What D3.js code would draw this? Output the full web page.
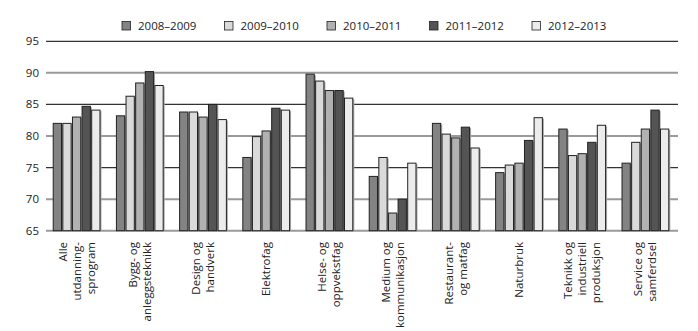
<!DOCTYPE html>
<html>
<head>
<meta charset="utf-8">
<script src="https://cdn.jsdelivr.net/npm/d3@7/dist/d3.min.js"></script>
<style>
  html, body { margin: 0; padding: 0; background: #fff; }
  svg text { font-family: "Open Sans", "Noto Sans", sans-serif; fill: #222; }
</style>
</head>
<body>
<svg id="chart" width="698" height="331"></svg>
<script>
// Programme areas (line breaks mark wrapped label lines)
const categories = [
  "Alle\nutdanning-\nsprogram",
  "Bygg- og\nanleggsteknikk",
  "Design og\nhandverk",
  "Elektrofag",
  "Helse- og\noppvekstfag",
  "Medium og\nkommunikasjon",
  "Restaurant-\nog matfag",
  "Naturbruk",
  "Teknikk og\nindustriell\nproduksjon",
  "Service og\nsamferdsel"
];

const seriesNames = ["2008–2009", "2009–2010", "2010–2011", "2011–2012", "2012–2013"];

const values2008 = [82.0, 83.2, 83.8, 76.6, 89.8, 73.6, 82.0, 74.2, 81.1, 75.7];
const values2009 = [82.0, 86.3, 83.8, 79.9, 88.7, 76.6, 80.3, 75.4, 76.9, 79.0];
const values2010 = [83.0, 88.4, 83.0, 80.8, 87.2, 67.8, 79.7, 75.7, 77.2, 81.1];
const values2011 = [84.7, 90.2, 85.0, 84.4, 87.2, 70.0, 81.4, 79.3, 79.0, 84.1];
const values2012 = [84.1, 88.0, 82.6, 84.1, 86.0, 75.7, 78.1, 82.9, 81.7, 81.1];

const yTicks = [65, 70, 75, 80, 85, 90, 95];
const seriesColors = ["#838383", "#dadada", "#b1b1b1", "#545454", "#ececec"];

const seriesValues = [values2008, values2009, values2010, values2011, values2012];

const svg = d3.select("#chart");
const plotLeft = 46, plotRight = 678, plotTop = 41.3, plotBottom = 230.7;

const y = d3.scaleLinear().domain([65, 95]).range([plotBottom, plotTop]);
const x0 = d3.scaleBand().domain(categories).range([45, 677])
  .paddingInner(0.26).paddingOuter(0.13);
const x1 = d3.scaleBand().domain(seriesNames).range([0, x0.bandwidth()])
  .paddingInner(0.14);
const color = d3.scaleOrdinal().domain(seriesNames).range(seriesColors);

// Horizontal grid lines, alternating dark and grey
svg.append("g").selectAll("line").data(yTicks).join("line")
  .attr("x1", plotLeft).attr("x2", plotRight)
  .attr("y1", d => y(d)).attr("y2", d => y(d))
  .attr("stroke", d => (d % 10 === 5 && d !== 65) ? "#333" : "#9a9a9a")
  .attr("stroke-width", d => (d % 10 === 5 && d !== 65) ? 1.3 : 2);

// Y axis tick labels
svg.append("g").selectAll("text").data(yTicks).join("text")
  .attr("x", 39).attr("y", d => y(d))
  .attr("dy", "0.35em")
  .attr("text-anchor", "end")
  .attr("font-size", 11.5)
  .text(d => d);

// Bars
const groups = svg.append("g").selectAll("g").data(categories).join("g")
  .attr("transform", d => `translate(${x0(d)},0)`);

const barData = (cat, ci) => seriesNames.map((s, si) => ({ s, v: seriesValues[si][ci] }));

groups.each(function(cat, ci) {
  const g = d3.select(this);
  const data = barData(cat, ci);
  // soft shadow on the right of each bar
  g.selectAll("rect.shadow").data(data).join("rect")
    .attr("class", "shadow")
    .attr("x", d => x1(d.s) + 1.5)
    .attr("y", d => y(d.v) + 1)
    .attr("width", x1.bandwidth())
    .attr("height", d => plotBottom - y(d.v) - 1)
    .attr("fill", "#a8a8a8");
  g.selectAll("rect.bar").data(data).join("rect")
    .attr("class", "bar")
    .attr("x", d => x1(d.s))
    .attr("y", d => y(d.v))
    .attr("width", x1.bandwidth())
    .attr("height", d => plotBottom - y(d.v))
    .attr("fill", d => color(d.s))
    .attr("stroke", "#222")
    .attr("stroke-width", 1);
});

// Category labels, rotated, lines stacked left to right
const lineGap = 14;
svg.append("g").selectAll("text").data(categories).join("text")
  .attr("font-size", 11.5)
  .attr("text-anchor", "end")
  .each(function(cat) {
    const lines = cat.split("\n");
    const cx = x0(cat) + x0.bandwidth() / 2 + 4;
    const t = d3.select(this)
      .attr("transform", `translate(${cx - (lines.length - 1) * lineGap / 2},242) rotate(-90)`);
    lines.forEach((ln, i) => {
      t.append("tspan").attr("x", 0).attr("y", i * lineGap).text(ln);
    });
  });

// Legend
const legendX = d3.scalePoint().domain(seriesNames).range([122, 532]);
const leg = svg.append("g").selectAll("g").data(seriesNames).join("g")
  .attr("transform", d => `translate(${legendX(d)},21.5)`);
leg.append("rect")
  .attr("width", 8.5).attr("height", 8.5)
  .attr("fill", d => color(d))
  .attr("stroke", "#222").attr("stroke-width", 0.8);
leg.append("text")
  .attr("x", 16).attr("y", 8.5)
  .attr("font-size", 11.5)
  .text(d => d);
</script>
</body>
</html>
